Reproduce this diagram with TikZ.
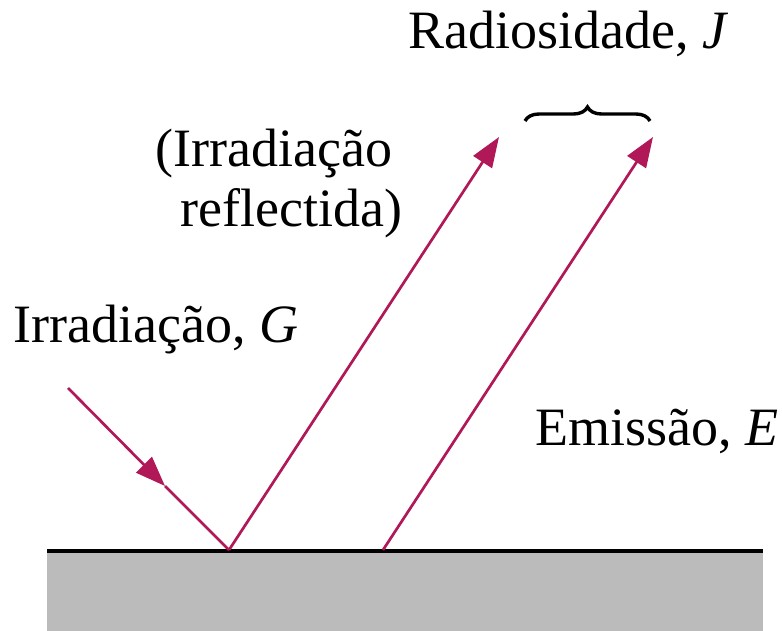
\documentclass[tikz,border=0pt]{standalone}
\usepackage{fontspec}
\setmainfont{Liberation Serif}
\usetikzlibrary{arrows.meta,decorations.pathreplacing}
\definecolor{ray}{RGB}{176,24,88}
\definecolor{ground}{RGB}{187,187,187}
\begin{document}
\begin{tikzpicture}[x=0.5pt,y=-0.5pt,
  raytip/.style={-{Triangle[length=15pt,width=11pt]}},
  rayline/.style={draw=ray,line width=1.35pt,color=ray},
  lbl/.style={font=\fontsize{27}{32}\selectfont,inner sep=0pt,anchor=base west}]
\useasboundingbox (0,0) rectangle (782,631);
% ground
\fill[ground] (47,552) rectangle (763,631);
\coordinate (gl) at (47,551);
\coordinate (gr) at (763,551);
\draw[line width=1.8pt,black] (gl) -- (gr);
% points
\coordinate (src) at (68,388);
\coordinate (mid) at (165,486);
\coordinate (hit) at (229,550);
\coordinate (rtip) at (499,137);
\coordinate (ebase) at (383,550);
\coordinate (etip) at (653,137);
% incident
\draw[rayline,raytip] (src) -- (mid);
\draw[rayline] (mid) -- (hit);
% reflected
\draw[rayline,raytip] (hit) -- (rtip);
% emission
\draw[rayline,raytip] (ebase) -- (etip);
% brace
\coordinate (bl) at (525,121);
\coordinate (br) at (650,121);
\draw[line width=1.7pt,decorate,decoration={brace,amplitude=7pt}] (bl) -- (br);
% labels
\node[lbl] (radio) at (408,49) {Radiosidade, \textit{J}};
\node[lbl] (irrefl1) at (155,167) {(Irradiação};
\node[lbl] (irrefl2) at (180,227) {reflectida)};
\node[lbl] (irr) at (13,342) {Irradiação, \textit{G}};
\node[lbl] (emi) at (535,445) {Emissão, \textit{E}};
\end{tikzpicture}
\end{document}
